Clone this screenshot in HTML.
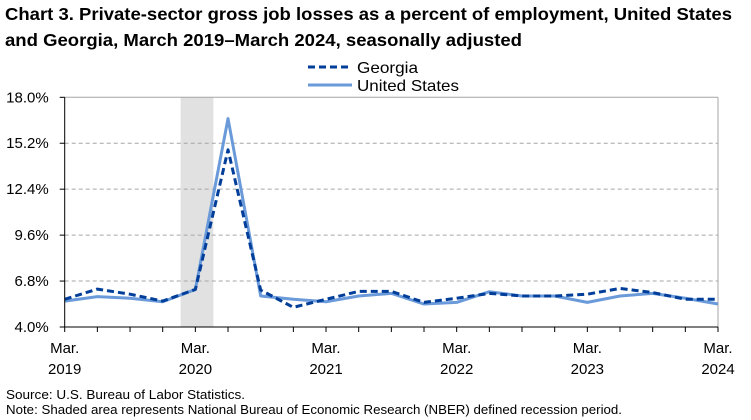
<!DOCTYPE html>
<html><head><meta charset="utf-8"><style>
body{margin:0;background:#fff;font-family:"Liberation Sans",Arial,sans-serif;}
#wrap{position:relative;width:751px;height:420px;overflow:hidden;}
</style></head><body>
<div id="wrap">
<svg id="chart" width="751" height="420" xmlns="http://www.w3.org/2000/svg">
<text x="5" y="20" font-size="17.5" font-weight="bold" fill="#000" textLength="727" lengthAdjust="spacingAndGlyphs">Chart 3. Private-sector gross job losses as a percent of employment, United States</text>
<text x="5" y="46" font-size="17.5" font-weight="bold" fill="#000" textLength="517" lengthAdjust="spacingAndGlyphs">and Georgia, March 2019–March 2024, seasonally adjusted</text>
<g>
<line x1="308" y1="67" x2="352" y2="67" stroke="#003e99" stroke-width="3" stroke-dasharray="7,4"/>
<text x="357" y="73" font-size="16" textLength="61" lengthAdjust="spacingAndGlyphs">Georgia</text>
<line x1="308" y1="85" x2="352" y2="85" stroke="#6a9ad9" stroke-width="3"/>
<text x="357" y="91" font-size="16" textLength="102" lengthAdjust="spacingAndGlyphs">United States</text>
</g>
<g id="plot"></g>
<text x="6" y="399" font-size="12.5" textLength="239" lengthAdjust="spacingAndGlyphs">Source: U.S. Bureau of Labor Statistics.</text>
<text x="6" y="414" font-size="12.5" textLength="616" lengthAdjust="spacingAndGlyphs">Note: Shaded area represents National Bureau of Economic Research (NBER) defined recession period.</text>
</svg>
</div>
<script>
const categories = ["Mar 2019","Jun 2019","Sep 2019","Dec 2019","Mar 2020","Jun 2020","Sep 2020","Dec 2020","Mar 2021","Jun 2021","Sep 2021","Dec 2021","Mar 2022","Jun 2022","Sep 2022","Dec 2022","Mar 2023","Jun 2023","Sep 2023","Dec 2023","Mar 2024"];
const usValues = [5.58,5.85,5.75,5.54,6.29,16.7,5.89,5.69,5.54,5.89,6.05,5.4,5.5,6.15,5.89,5.89,5.5,5.89,6.05,5.75,5.4];
const gaValues = [5.69,6.31,6.0,5.58,6.29,14.8,6.25,5.2,5.69,6.17,6.17,5.5,5.75,6.05,5.89,5.89,6.0,6.35,6.1,5.69,5.69];
const yTicks = [4.0,6.8,9.6,12.4,15.2,18.0];
const xLabelYears = ["2019","2020","2021","2022","2023","2024"];
const recession = [3.55, 4.55];

const NS="http://www.w3.org/2000/svg";
const X0=64.7,X1=718,Y0=327,Y1=97.3,YMIN=4,YMAX=18;
const xs=i=>X0+(X1-X0)*i/(categories.length-1);
const ys=v=>Y0-(v-YMIN)/(YMAX-YMIN)*(Y0-Y1);
const plot=document.getElementById('plot');
function mk(tag,attrs){const e=document.createElementNS(NS,tag);for(const k in attrs)e.setAttribute(k,attrs[k]);plot.appendChild(e);return e;}

let r=mk('rect',{x:xs(recession[0]),y:Y1,width:xs(recession[1])-xs(recession[0]),height:Y0-Y1,fill:'#e1e1e1'});



yTicks.forEach((t,i)=>{
  const y=ys(t);
  if(i>0){
    const g=mk('line',{x1:X0,x2:X1,y1:y,y2:y,stroke:'#a6a6a6','stroke-width':1,'stroke-dasharray':i==yTicks.length-1?'none':'4,3'});
    
    
  }
  const tk=mk('line',{x1:X0-5,x2:X0,y1:y,y2:y,stroke:'#000'});
  
  
  const tx=mk('text',{x:X0-16,y:y+5,'font-size':15,'text-anchor':'end'});
  tx.textContent=t.toFixed(1)+'%';
  
  
});
let ra=mk('line',{x1:X1,x2:X1,y1:Y1,y2:Y0,stroke:'#a6a6a6'});



function series(vals,color,dash,name,w){
  const p=mk('polyline',{points:vals.map((v,i)=>xs(i)+','+ys(v)).join(' '),fill:'none',stroke:color,'stroke-width':w,'stroke-dasharray':dash,'stroke-linejoin':'round'});
  
  
}
series(usValues,'#6a9ad9','none','us-line',3);
series(gaValues,'#003e99','7,4','georgia-line',3);

let ya=mk('line',{x1:X0,x2:X0,y1:Y1,y2:Y0,stroke:'#000'});


let xa=mk('line',{x1:X0,x2:X1,y1:Y0,y2:Y0,stroke:'#000'});


categories.forEach((c,i)=>{
  const t=mk('line',{x1:xs(i),x2:xs(i),y1:Y0,y2:Y0+5,stroke:'#000'});
  
  
});
xLabelYears.forEach((yr,k)=>{
  const x=xs(k*4);
  const a=mk('text',{x:x,y:353,'font-size':15,'text-anchor':'middle'});
  a.textContent='Mar.';
  
  
  const b=mk('text',{x:x,y:374,'font-size':15,'text-anchor':'middle'});
  b.textContent=yr;
  
  
});
</script>
</body></html>
